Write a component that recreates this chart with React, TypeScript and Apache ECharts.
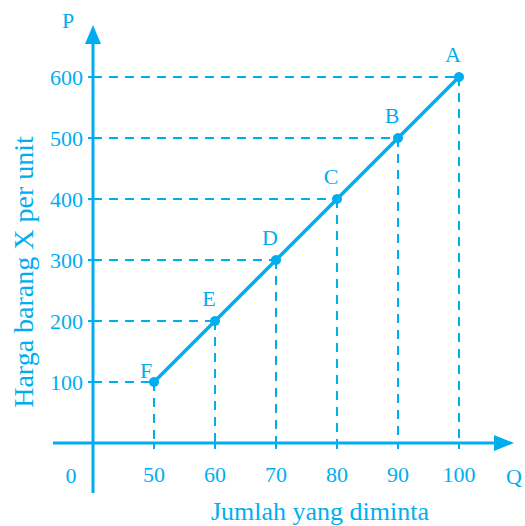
import React, { useEffect, useRef } from "react";
import * as echarts from "echarts";

const quantities = [50, 60, 70, 80, 90, 100];
const prices = [100, 200, 300, 400, 500, 600];
const pointNames = ["F", "E", "D", "C", "B", "A"];
const xTicks = [50, 60, 70, 80, 90, 100];
const yTicks = [100, 200, 300, 400, 500, 600];

const X_MIN = 40;
const Y_MIN = 0;
const COLOR = "#00aeef";
const FONT = "Liberation Serif";

export default function App() {
  const ref = useRef<HTMLDivElement>(null);
  useEffect(() => {
    document.body.style.margin = "0";
    if (!ref.current) return;
    const chart = echarts.init(ref.current, null, { renderer: "svg" });
    const data = quantities.map((q, i) => ({
      value: [q, prices[i]],
      name: pointNames[i],
      label: { offset: i === 0 ? [-8, 9] : [-6, -2] },
    }));
    const guides: any[] = [];
    quantities.forEach((q, i) => {
      guides.push([{ coord: [X_MIN, prices[i]] }, { coord: [q, prices[i]] }]);
      guides.push([{ coord: [q, prices[i]] }, { coord: [q, Y_MIN] }]);
    });
    chart.setOption({
      animation: false,
      textStyle: { fontFamily: FONT },
      grid: { left: 93, right: 66, top: 77, bottom: 83, containLabel: false, outerBoundsMode: "none" },
      xAxis: {
        type: "value",
        min: X_MIN,
        max: 100,
        interval: 10,
        axisLine: { show: false },
        splitLine: { show: false },
        axisTick: { show: true, length: 6, lineStyle: { color: COLOR, width: 2 } },
        axisLabel: {
          color: COLOR,
          fontFamily: FONT,
          fontSize: 22,
          margin: 20,
          formatter: (v: number) => (xTicks.includes(v) ? String(v) : ""),
        },
        name: "Jumlah yang diminta",
        nameLocation: "middle",
        nameGap: 55,
        nameTextStyle: { color: COLOR, fontFamily: FONT, fontSize: 26, padding: [0, 0, 0, 88] },
      },
      yAxis: {
        type: "value",
        min: Y_MIN,
        max: 600,
        interval: 100,
        axisLine: { show: false },
        splitLine: { show: false },
        axisTick: { show: true, length: 5, lineStyle: { color: COLOR, width: 2 } },
        axisLabel: {
          color: COLOR,
          fontFamily: FONT,
          fontSize: 22,
          margin: 10,
          formatter: (v: number) => (yTicks.includes(v) ? String(v) : ""),
        },
        name: "Harga barang X per unit",
        nameLocation: "middle",
        nameGap: 56,
        nameTextStyle: { color: COLOR, fontFamily: FONT, fontSize: 28, padding: [0, 24, 0, 0] },
      },
      series: [
        {
          type: "line",
          data,
          symbol: "circle",
          symbolSize: 10,
          lineStyle: { color: COLOR, width: 3.5 },
          itemStyle: { color: COLOR },
          label: {
            show: true,
            position: "top",
            formatter: "{b}",
            color: COLOR,
            fontFamily: FONT,
            fontSize: 22,
          },
          markLine: {
            silent: true,
            symbol: ["none", "none"],
            label: { show: false },
            lineStyle: { color: COLOR, width: 2, type: [9, 7] },
            data: guides,
          },
        },
      ],
    });
    const o = chart.convertToPixel({ gridIndex: 0 }, [X_MIN, Y_MIN]) as number[];
    const ox = o[0];
    const oy = o[1];
    const txt = (s: string, x: number, y: number) => ({
      type: "text",
      x,
      y,
      style: { text: s, fill: COLOR, fontFamily: FONT, fontSize: 22, align: "center", verticalAlign: "middle" },
    });
    chart.setOption({
      graphic: [
        { type: "line", shape: { x1: ox - 40, y1: oy, x2: 500, y2: oy }, style: { stroke: COLOR, lineWidth: 3 } },
        { type: "polygon", shape: { points: [[494, oy - 8], [514, oy], [494, oy + 8]] }, style: { fill: COLOR } },
        { type: "line", shape: { x1: ox, y1: oy + 50, x2: ox, y2: 40 }, style: { stroke: COLOR, lineWidth: 3 } },
        { type: "polygon", shape: { points: [[ox - 8, 44], [ox, 25], [ox + 8, 44]] }, style: { fill: COLOR } },
        txt("0", 71, 475),
        txt("P", 68, 20),
        txt("Q", 514, 476),
      ],
    });
    return () => chart.dispose();
  }, []);
  return <div ref={ref} style={{ width: 525, height: 526 }} />;
}
